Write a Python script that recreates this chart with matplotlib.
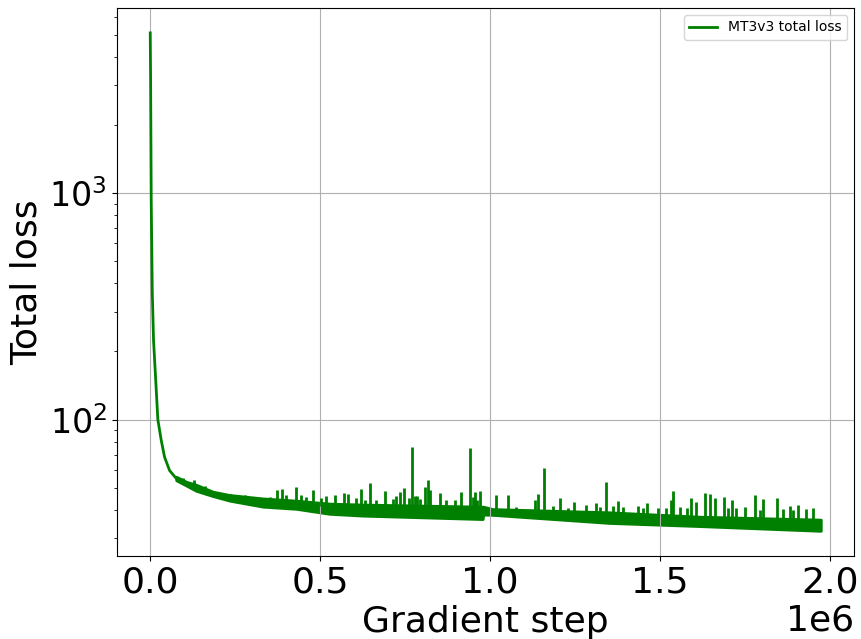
import matplotlib
matplotlib.use("Agg")
import matplotlib.pyplot as plt

# initial drop of the loss (thin single trace)
early_steps = [0, 1000, 2900, 5900, 9700, 17700, 22400, 32400, 42100, 56800, 76500]
early_loss = [5100, 3300, 928, 372, 224, 135, 100, 81, 68.4, 59.7, 55.0]

# dense noisy band after the drop: lower / upper edge of the trace
band_steps = [76500, 106000, 135400, 184200, 233400, 331400, 429700, 527700,
              625700, 978000, 980000, 1007000, 1351000, 1616000, 1973000]
band_low = [54.0, 51.2, 48.5, 46.0, 43.9, 41.3, 40.4, 38.4,
            37.7, 36.4, 38.1, 38.0, 35.0, 33.9, 32.3]
band_high = [56.0, 53.2, 51.6, 48.1, 46.5, 44.9, 43.9, 42.6,
             42.2, 41.3, 41.3, 40.3, 39.0, 37.3, 36.2]

# spikes sticking out of the band: step, top value, foot inside the band
spike_steps = [96000, 127400, 159800, 233400, 279600, 331400, 351100, 373700,
               387300, 400200, 429700, 444400, 459100, 478500, 503200, 518000,
               542400, 568900, 581500, 606300, 621000, 630700, 647500, 665100,
               690400, 714000, 722000, 735700, 746300, 761000, 769900, 777800,
               784600, 792500, 808100, 816100, 822000, 853500, 871100, 895500,
               914100, 940600, 949400, 954400, 961200, 970000, 1017100, 1052400,
               1077100, 1131000, 1140700, 1158300, 1184800, 1205500, 1229000,
               1246700, 1283100, 1312600, 1322300, 1340800, 1361500, 1376100,
               1392200, 1435000, 1449700, 1460600, 1493800, 1518600, 1531200,
               1539200, 1557500, 1579200, 1590100, 1606900, 1633400, 1646000,
               1660700, 1687200, 1699900, 1711600, 1724600, 1749000, 1778400,
               1793200, 1802900, 1844100, 1861700, 1882300, 1891200, 1905000,
               1930600, 1950000]
spike_peak = [55.3, 54.4, 50.8, 46.8, 46.3, 45.3, 45.5, 48.7,
              49.3, 46.3, 50.4, 46.3, 45.5, 48.7, 45.3, 45.9,
              46.3, 47.4, 46.8, 45.3, 49.6, 44.0, 52.5, 44.0,
              48.4, 44.7, 45.9, 47.9, 50.1, 45.3, 75.7, 45.9,
              45.9, 44.7, 50.4, 54.4, 48.7, 47.4, 44.0, 44.0,
              47.9, 75.2, 45.5, 47.9, 44.0, 48.4, 46.3, 46.5,
              41.3, 44.0, 47.1, 61.1, 41.7, 45.3, 40.9,
              43.3, 42.2, 42.9, 41.3, 52.9, 41.7, 43.6,
              41.3, 41.7, 40.9, 42.9, 40.9, 40.9, 44.0,
              48.4, 41.3, 40.9, 45.3, 43.3, 47.6, 46.8,
              45.1, 45.4, 40.9, 44.0, 40.9, 41.3, 46.5,
              40.1, 44.5, 45.3, 40.4, 41.7, 39.8, 42.0,
              40.4, 40.9]
spike_foot = [52, 50, 48, 45, 44.5, 43.5, 43, 43,
              43, 42.5, 42, 42, 42, 41.5, 41.5, 41,
              40.5, 40.5, 40.5, 40, 40, 40, 40, 40,
              40, 40, 40, 40, 40, 40, 40, 40,
              40, 40, 39.5, 39.5, 39.5, 39.5, 39.5, 39.5,
              39, 39, 39, 39, 39, 39, 39, 39,
              38.5, 38.5, 38.5, 38.5, 38, 38, 38,
              38, 37.5, 37.5, 37.5, 37.5, 37, 37,
              37, 37, 37, 37, 36.5, 36.5, 36.5,
              36.5, 36.5, 36, 36, 36, 36, 36,
              36, 35.5, 35.5, 35.5, 35.5, 35.5, 35.5,
              35, 35, 35, 35, 35, 35, 34.5,
              34.5, 34.5]

color = "green"

fig = plt.figure(figsize=(8.62, 6.39), dpi=100)
ax = fig.add_subplot(111)
fig.subplots_adjust(left=0.1354, right=0.9911, bottom=0.1303, top=0.9875)

ax.plot(early_steps, early_loss, color=color, lw=2, label="MT3v3 total loss")
ax.fill_between(band_steps, band_low, band_high, facecolor=color,
                edgecolor=color, lw=2)
ax.vlines(spike_steps, spike_foot, spike_peak, color=color, lw=2)

ax.set_yscale("log")
ax.grid(True)
ax.set_xlabel("Gradient step", fontsize=26)
ax.set_ylabel("Total loss", fontsize=26)
ax.tick_params(axis="x", which="major", labelsize=26)
ax.tick_params(axis="y", which="major", labelsize=24)
ax.xaxis.get_offset_text().set_fontsize(26)
ax.legend(loc="upper right", fontsize=10)

plt.savefig("out.png", dpi=100)
